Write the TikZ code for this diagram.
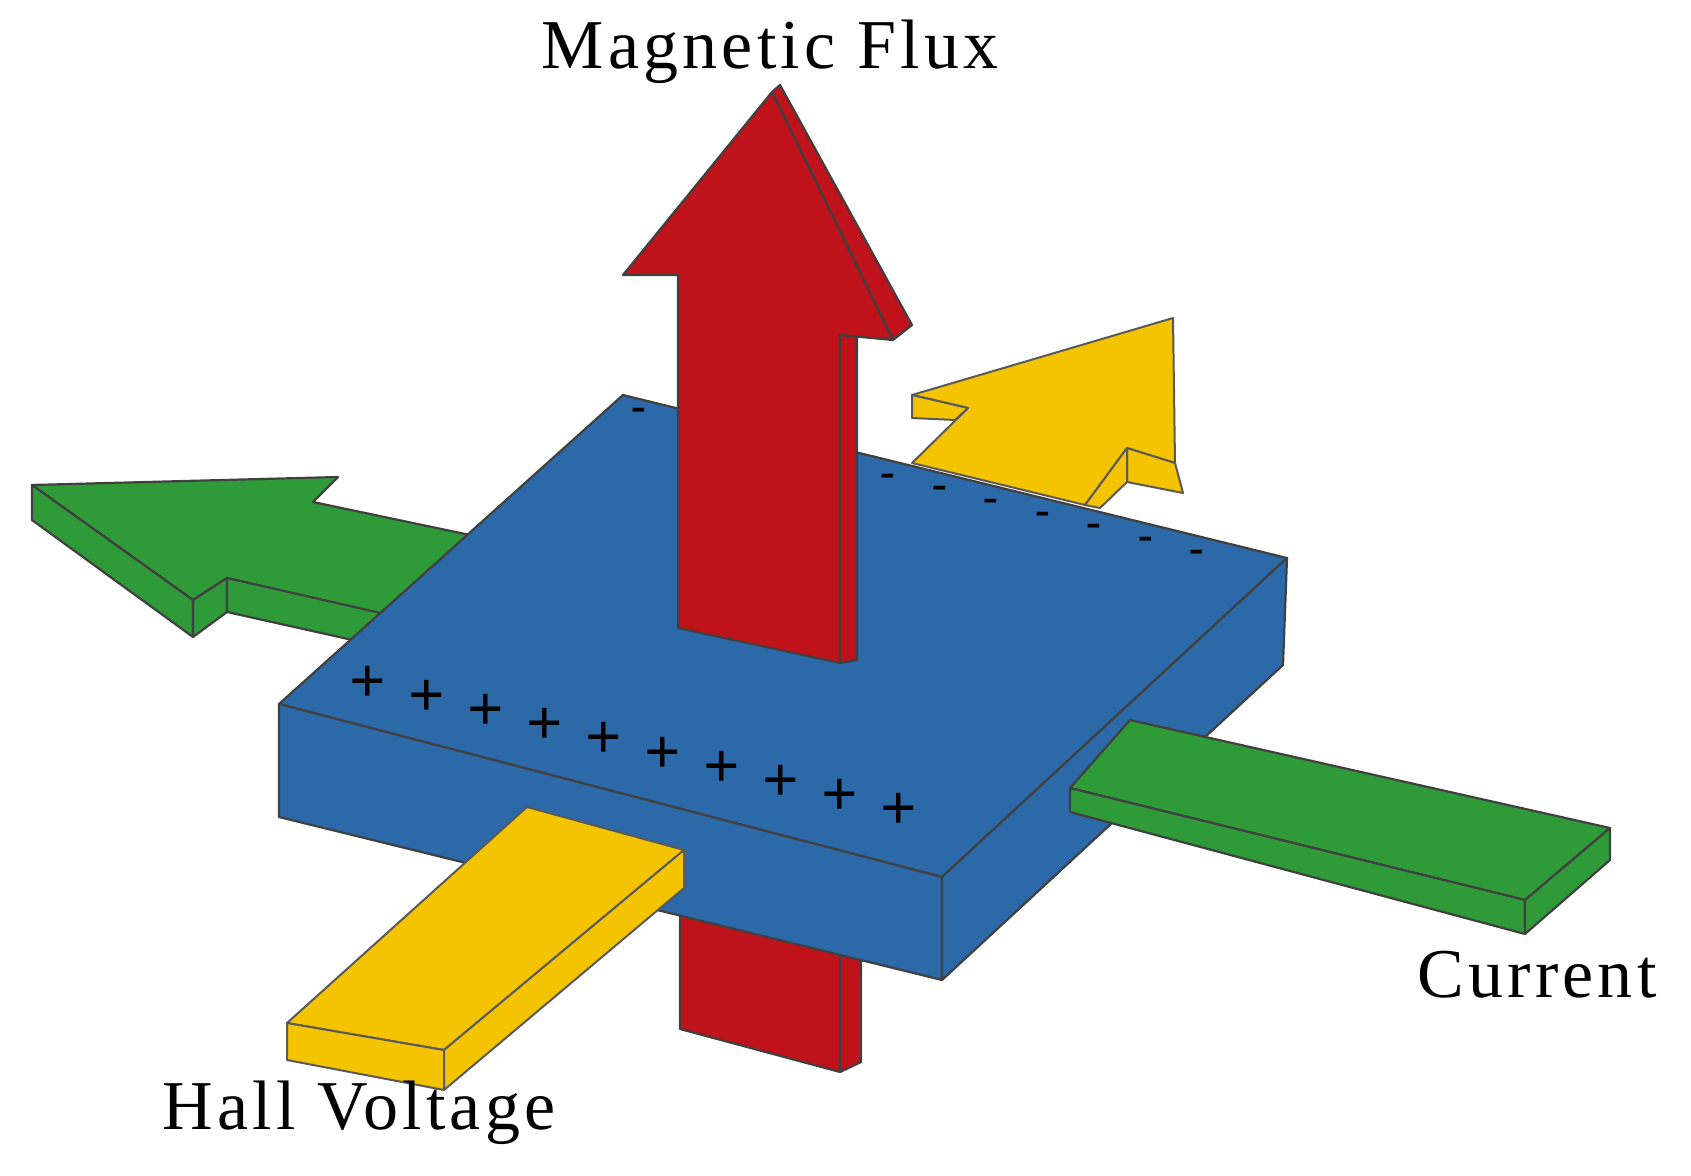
\documentclass[tikz,border=0pt]{standalone}
\usepackage{fontspec}
\setmainfont{Liberation Serif}
\begin{document}
\begin{tikzpicture}[x=1pt,y=-1pt,line join=round,
  bl/.style={fill=blue1,draw=black!75,line width=2.2pt},
  rd/.style={fill=red1,draw=black!75,line width=2.2pt},
  gr/.style={fill=green1,draw=black!75,line width=2.2pt},
  ye/.style={fill=yellow1,draw=black!65,line width=2pt},
  lbl/.style={font=\fontsize{70}{70}\selectfont\addfontfeatures{LetterSpace=6},inner sep=0pt}]
\definecolor{blue1}{HTML}{2B69A8}
\definecolor{red1}{HTML}{C0121B}
\definecolor{green1}{HTML}{2E9A38}
\definecolor{yellow1}{HTML}{F5C400}
\useasboundingbox (0,0) rectangle (1691,1175);
% yellow back arrow
\draw[ye] (968,408)--(912,395)--(1173,318)--(1175,463)--(1127,448)--(1085,505)--(912,463)--cycle;
\draw[ye] (912,395)--(968,408)--(955,420)--(912,418)--cycle;
\draw[ye] (1127,448)--(1175,463)--(1183,493)--(1127,482)--cycle;
\draw[ye] (1127,448)--(1127,482)--(1100,508)--(1085,505)--cycle;
% green back arrow
\draw[gr] (32,485)--(338,477)--(313,502)--(470,535)--(430,625)--(227,578)--(193,600)--cycle;
\draw[gr] (32,485)--(193,600)--(193,637)--(32,520)--cycle;
\draw[gr] (193,600)--(227,578)--(227,612)--(193,637)--cycle;
\draw[gr] (227,578)--(420,622)--(420,655)--(227,612)--cycle;
% red lower part
\draw[rd] (680,900)--(680,1029)--(840,1072)--(840,900)--cycle;
\draw[rd] (840,900)--(840,1072)--(861,1062)--(861,900)--cycle;
% slab
\draw[bl] (279,704)--(623,395)--(1287,558)--(942,877)--cycle;
\draw[bl] (279,704)--(942,877)--(942,980)--(279,817)--cycle;
\draw[bl] (942,877)--(1287,558)--(1283,665)--(942,980)--cycle;
% charges
\foreach \i in {0,...,9}{
  \node[font=\fontsize{64}{64}\selectfont\bfseries,inner sep=0pt] (p\i) at ({368+\i*59},{684+\i*14.2}) {+};}
\node[font=\fontsize{44}{44}\selectfont\bfseries,inner sep=0pt] (m0) at (639,414) {-};
\foreach \i in {0,...,6}{
  \node[font=\fontsize{44}{44}\selectfont\bfseries,inner sep=0pt] (m\i x) at ({888+\i*51.5},{480+\i*12.7}) {-};}
% red upper arrow
\draw[rd] (772,92)--(780,85)--(912,325)--(893,340)--cycle;
\draw[rd] (840,335)--(857,335)--(857,660)--(840,663)--cycle;
\draw[rd] (678,628)--(678,275)--(623,275)--(772,92)--(893,340)--(840,335)--(840,663)--cycle;
% yellow front bar
\draw[ye] (527,807)--(684,850)--(444,1050)--(287,1023)--cycle;
\draw[ye] (287,1023)--(444,1050)--(444,1090)--(287,1060)--cycle;
\draw[ye] (444,1050)--(684,850)--(684,888)--(444,1090)--cycle;
% green front bar
\draw[gr] (1070,788)--(1130,720)--(1610,828)--(1525,900)--cycle;
\draw[gr] (1070,788)--(1525,900)--(1525,934)--(1070,812)--cycle;
\draw[gr] (1525,900)--(1610,828)--(1610,860)--(1525,934)--cycle;
% labels
\node[lbl] (mf) at (770,52) {Magnetic Flux};
\node[lbl] (cu) at (1537,975) {Current};
\node[lbl] (hv) at (359,1113) {Hall Voltage};
\end{tikzpicture}
\end{document}
